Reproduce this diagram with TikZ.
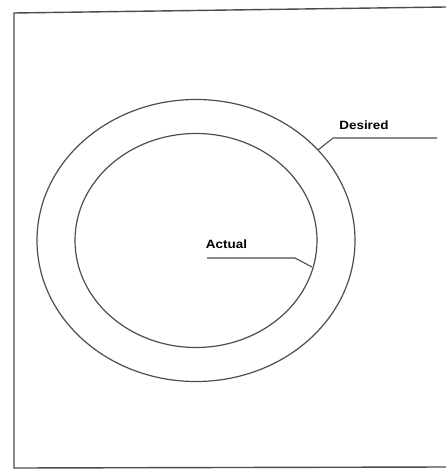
\documentclass[tikz,border=0pt]{standalone}
\usepackage{fontspec}
\setmainfont{Liberation Sans}
\usetikzlibrary{shapes.geometric}
\tikzset{
  ink/.style={draw=black!70, line width=1.2pt},
  ring/.style={ink, ellipse, inner sep=0pt, outer sep=0pt},
  lbl/.style={font=\fontsize{12}{14}\selectfont\bfseries, text=black, inner sep=0pt, anchor=base},
  leader/.style={draw=black!70, line width=1.1pt}
}
\begin{document}
\begin{tikzpicture}[x=1pt,y=-1pt]
\useasboundingbox (0,0) rectangle (445,470);
% frame (open on the right)
\coordinate (ftr) at (446,7);
\coordinate (ftl) at (14,13);
\coordinate (fbl) at (14,468);
\coordinate (fbr) at (446,467);
\draw[ink, line width=1.4pt] (ftr) -- (ftl) -- (fbl) -- (fbr);
% rings
\node[ring, minimum width=318pt, minimum height=282pt] (outer) at (196,240.5) {};
\node[ring, minimum width=242pt, minimum height=214pt] (inner) at (196,240.5) {};
% labels
\node[lbl] (desired) at (364,130) {\scalebox{1.12}[1]{Desired}};
\node[lbl] (actual) at (226.5,248) {\scalebox{1.12}[1]{Actual}};
% leaders
\coordinate (dtip) at (318,150);
\coordinate (dknee) at (333,138);
\coordinate (dend) at (437,138);
\draw[leader] (dtip) -- (dknee) -- (dend);
\coordinate (atip) at (312,267);
\coordinate (aknee) at (295,258);
\coordinate (aend) at (207,258);
\draw[leader] (aend) -- (aknee) -- (atip);
\end{tikzpicture}
\end{document}
